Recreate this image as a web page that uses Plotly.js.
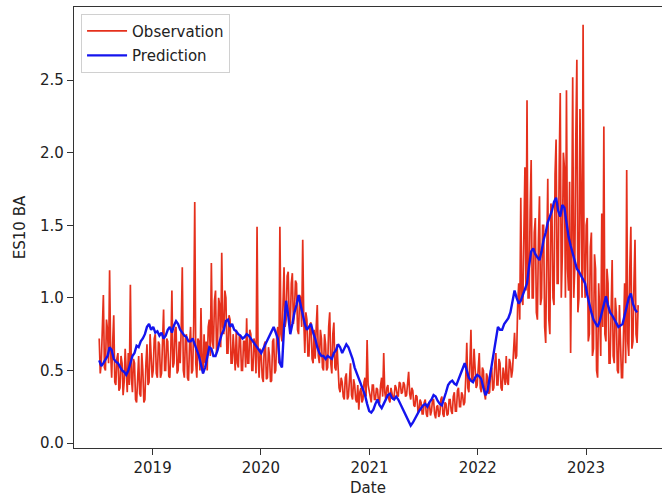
<!DOCTYPE html>
<html>
<head>
<meta charset="utf-8">
<script src="https://cdn.plot.ly/plotly-3.0.1.min.js"></script>
<style>html,body{margin:0;padding:0;background:#fff;}#chart{width:662px;height:503px;}</style>
</head>
<body>
<div id="chart"></div>
<script>
// Observation: twice-weekly samples (every 3.5 days) starting 2018-07-05, 26 values per quarter
const obsStart = '2018-07-05';
const obsStepDays = 3.5;
const observation = [
  0.72, 0.48, 0.55, 0.80, 1.02, 0.52, 0.50, 0.85, 0.78, 0.55, 1.19, 0.62, 0.45, 0.70, 0.88, 0.42, 0.40, 0.58, 0.62, 0.36, 0.38, 0.60, 0.55, 0.33, 0.42, 0.65,
  0.45, 0.35, 0.62, 0.40, 1.09, 0.45, 0.35, 0.58, 0.55, 0.30, 0.28, 0.52, 0.60, 0.34, 0.32, 0.62, 0.50, 0.28, 0.30, 0.55, 0.68, 0.40, 0.42, 0.75, 0.60, 0.45,
  0.50, 0.72, 0.75, 0.48, 0.45, 0.70, 0.68, 0.45, 0.48, 0.78, 0.92, 0.50, 0.50, 0.72, 0.70, 0.46, 0.45, 0.65, 1.05, 0.52, 0.55, 0.78, 0.80, 0.48, 0.50, 0.70,
  0.55, 0.80, 1.21, 0.50, 0.45, 0.72, 0.75, 0.45, 0.43, 0.68, 0.80, 0.48, 0.50, 0.82, 1.66, 0.55, 0.45, 0.72, 0.70, 0.50, 0.93, 0.55, 0.48, 0.75, 0.55, 0.70,
  0.50, 0.80, 0.85, 0.60, 1.24, 0.70, 0.65, 0.98, 1.05, 0.62, 0.70, 1.00, 0.95, 0.66, 1.31, 0.80, 0.75, 1.05, 1.00, 0.62, 0.62, 0.88, 0.85, 0.55, 0.55, 0.75,
  0.60, 0.50, 0.78, 0.55, 0.52, 0.75, 0.72, 0.50, 0.50, 0.70, 0.70, 0.52, 0.86, 0.55, 0.55, 0.78, 0.75, 0.50, 0.50, 0.72, 0.68, 0.48, 1.49, 0.60, 0.45, 0.65,
  0.62, 0.45, 0.42, 0.68, 0.70, 0.44, 0.45, 0.66, 0.60, 0.42, 0.43, 0.70, 0.72, 0.48, 0.50, 0.75, 0.80, 0.55, 1.49, 0.75, 0.70, 1.05, 1.21, 0.80, 0.85, 1.15,
  1.18, 0.85, 0.80, 1.10, 1.17, 0.82, 0.90, 1.12, 1.10, 0.78, 0.75, 1.02, 1.00, 0.80, 1.40, 0.85, 0.62, 0.90, 0.85, 0.60, 0.60, 0.82, 0.83, 0.58, 0.55, 0.78,
  0.58, 0.80, 0.95, 0.60, 0.55, 0.78, 0.72, 0.52, 0.50, 0.75, 0.68, 0.50, 0.52, 0.80, 0.90, 0.55, 0.48, 0.75, 0.83, 0.52, 0.50, 0.68, 0.45, 0.38, 0.35, 0.45,
  0.42, 0.32, 0.30, 0.45, 0.48, 0.30, 0.32, 0.46, 0.55, 0.33, 0.30, 0.44, 0.40, 0.30, 0.28, 0.40, 0.23, 0.35, 0.38, 0.28, 0.30, 0.42, 0.45, 0.32, 0.71, 0.40,
  0.35, 0.30, 0.28, 0.40, 0.40, 0.30, 0.30, 0.38, 0.37, 0.28, 0.28, 0.40, 0.45, 0.32, 0.62, 0.35, 0.30, 0.38, 0.40, 0.30, 0.28, 0.38, 0.35, 0.30, 0.32, 0.40,
  0.38, 0.33, 0.32, 0.42, 0.41, 0.34, 0.35, 0.42, 0.40, 0.32, 0.33, 0.44, 0.49, 0.34, 0.30, 0.38, 0.36, 0.26, 0.25, 0.33, 0.32, 0.22, 0.22, 0.30, 0.28, 0.20,
  0.20, 0.28, 0.30, 0.20, 0.18, 0.27, 0.28, 0.19, 0.22, 0.30, 0.30, 0.20, 0.17, 0.25, 0.26, 0.18, 0.20, 0.30, 0.32, 0.20, 0.18, 0.28, 0.27, 0.19, 0.20, 0.30,
  0.30, 0.22, 0.20, 0.32, 0.35, 0.22, 0.22, 0.36, 0.38, 0.25, 0.25, 0.35, 0.33, 0.26, 0.28, 0.45, 0.69, 0.38, 0.35, 0.55, 0.78, 0.42, 0.45, 0.65, 0.55, 0.38,
  0.40, 0.55, 0.62, 0.38, 0.35, 0.52, 0.50, 0.34, 0.30, 0.48, 0.45, 0.34, 0.35, 0.50, 0.52, 0.36, 0.38, 0.55, 0.62, 0.40, 0.40, 0.58, 0.55, 0.38, 0.36, 0.52,
  0.45, 0.40, 0.60, 0.42, 0.40, 0.58, 0.55, 0.45, 0.50, 0.68, 0.76, 0.58, 0.60, 0.95, 1.10, 0.85, 1.69, 1.00, 0.95, 1.45, 1.90, 1.05, 2.36, 1.00, 1.00, 1.60,
  1.95, 1.00, 1.00, 1.45, 1.55, 0.90, 0.85, 1.40, 1.70, 0.95, 1.00, 1.50, 1.50, 0.80, 0.69, 1.30, 1.82, 0.85, 0.75, 1.65, 1.60, 1.00, 0.95, 1.85, 2.09, 1.10,
  1.10, 1.90, 2.41, 1.00, 1.30, 2.00, 1.90, 1.00, 2.43, 1.20, 1.05, 1.80, 0.62, 1.40, 2.52, 1.00, 1.20, 2.10, 2.64, 0.90, 1.00, 2.30, 1.80, 1.00, 2.88, 1.20,
  1.00, 1.50, 1.55, 0.70, 0.75, 1.35, 1.45, 0.60, 0.65, 1.30, 1.20, 0.50, 0.45, 1.10, 0.90, 0.60, 1.58, 0.80, 2.18, 0.75, 0.70, 1.20, 1.10, 0.55, 0.55, 1.00,
  1.26, 0.60, 0.55, 1.00, 0.90, 0.50, 0.48, 0.95, 0.75, 0.45, 0.45, 0.85, 1.10, 0.55, 1.88, 0.70, 0.60, 1.20, 1.49, 0.65, 0.70, 1.10, 1.40, 0.75, 0.69, 0.95
];

// Prediction: weekly samples starting 2018-07-05
const predStart = '2018-07-05';
const predStepDays = 7;
const prediction = [
  0.57, 0.53, 0.55, 0.58, 0.60, 0.66, 0.64, 0.58, 0.56, 0.55, 0.52, 0.50, 0.49, 0.47, 0.50, 0.55, 0.60, 0.62, 0.67, 0.66,
  0.70, 0.72, 0.75, 0.80, 0.82, 0.78, 0.80, 0.76, 0.77, 0.74, 0.76, 0.72, 0.74, 0.78, 0.80, 0.76, 0.81, 0.84, 0.82, 0.78,
  0.76, 0.74, 0.73, 0.70, 0.70, 0.72, 0.68, 0.64, 0.60, 0.54, 0.48, 0.52, 0.60, 0.66, 0.65, 0.60, 0.60, 0.64, 0.70, 0.75,
  0.78, 0.84, 0.85, 0.80, 0.82, 0.78, 0.77, 0.75, 0.74, 0.72, 0.73, 0.75, 0.74, 0.72, 0.70, 0.68, 0.66, 0.64, 0.62, 0.65,
  0.68, 0.72, 0.75, 0.78, 0.80, 0.76, 0.72, 0.55, 0.52, 0.80, 0.98, 0.88, 0.75, 0.82, 0.90, 0.95, 1.02, 0.95, 0.88, 0.82,
  0.78, 0.80, 0.82, 0.76, 0.72, 0.66, 0.62, 0.60, 0.60, 0.58, 0.60, 0.59, 0.58, 0.62, 0.64, 0.68, 0.66, 0.62, 0.65, 0.68,
  0.66, 0.62, 0.58, 0.52, 0.48, 0.44, 0.40, 0.36, 0.33, 0.27, 0.22, 0.21, 0.23, 0.27, 0.30, 0.26, 0.24, 0.27, 0.30, 0.33,
  0.34, 0.31, 0.30, 0.32, 0.30, 0.27, 0.24, 0.21, 0.18, 0.14, 0.12, 0.14, 0.17, 0.20, 0.22, 0.24, 0.26, 0.27, 0.25, 0.28,
  0.30, 0.33, 0.32, 0.29, 0.27, 0.26, 0.30, 0.35, 0.40, 0.42, 0.43, 0.41, 0.40, 0.44, 0.47, 0.52, 0.55, 0.50, 0.45, 0.43,
  0.42, 0.45, 0.47, 0.46, 0.44, 0.38, 0.33, 0.36, 0.45, 0.52, 0.62, 0.72, 0.80, 0.78, 0.78, 0.82, 0.84, 0.86, 0.90, 0.98,
  1.05, 1.00, 0.96, 0.98, 1.02, 1.06, 1.10, 1.22, 1.32, 1.34, 1.30, 1.28, 1.26, 1.32, 1.40, 1.45, 1.52, 1.56, 1.60, 1.66,
  1.69, 1.60, 1.56, 1.64, 1.62, 1.52, 1.42, 1.36, 1.30, 1.25, 1.20, 1.18, 1.15, 1.12, 1.10, 1.02, 0.95, 0.90, 0.85, 0.82,
  0.80, 0.84, 0.90, 0.96, 1.01, 0.95, 0.90, 0.88, 0.85, 0.82, 0.80, 0.81, 0.82, 0.88, 0.95, 1.00, 1.03, 0.96, 0.92, 0.90
];

const yTicks = [0, 0.5, 1.0, 1.5, 2.0, 2.5];
const yTickLabels = ['0.0', '0.5', '1.0', '1.5', '2.0', '2.5'];
const xTicks = ['2019-01-01', '2020-01-01', '2021-01-01', '2022-01-01', '2023-01-01'];
const xTickLabels = ['2019', '2020', '2021', '2022', '2023'];

function seriesDates(start, stepDays, n) {
  const t0 = Date.parse(start + 'T00:00:00Z');
  const out = [];
  for (let i = 0; i < n; i++) {
    const iso = new Date(t0 + i * stepDays * 86400000).toISOString();
    out.push(iso.slice(0, 10) + ' ' + iso.slice(11, 19));
  }
  return out;
}

const font = 'DejaVu Sans, sans-serif';
const traces = [
  {
    x: seriesDates(obsStart, obsStepDays, observation.length),
    y: observation,
    type: 'scatter', mode: 'lines', name: 'Observation', legendgroup: 'obs',
    line: {color: '#e5301c', width: 1.7}
  },
  {
    x: seriesDates(predStart, predStepDays, prediction.length),
    y: prediction,
    type: 'scatter', mode: 'lines', name: 'Prediction', legendgroup: 'pred',
    line: {color: '#1414ee', width: 2.4}
  }
];

const layout = {
  width: 662, height: 503,
  margin: {l: 74, r: 0, t: 7, b: 55},
  paper_bgcolor: '#fff', plot_bgcolor: '#fff',
  font: {family: font, size: 15, color: '#222'},
  showlegend: true,
  legend: {
    x: 0.012, y: 0.985, xanchor: 'left', yanchor: 'top',
    bgcolor: 'rgba(255,255,255,0.8)', bordercolor: '#d0d0d0', borderwidth: 1,
    traceorder: 'grouped', tracegroupgap: 2, itemwidth: 40,
    font: {family: font, size: 15, color: '#222'}
  },
  xaxis: {
    type: 'date',
    range: ['2018-04-11', '2023-09-14'],
    tickvals: xTicks, ticktext: xTickLabels,
    ticks: 'outside', ticklen: 6, tickcolor: '#333', tickwidth: 1,
    showgrid: false, zeroline: false,
    showline: true, mirror: true, linecolor: '#333', linewidth: 1.2,
    title: {text: 'Date', font: {family: font, size: 15, color: '#222'}, standoff: 6},
    tickfont: {family: font, size: 15, color: '#222'}
  },
  yaxis: {
    range: [-0.034, 3.003],
    tickvals: yTicks, ticktext: yTickLabels,
    ticks: 'outside', ticklen: 6, tickcolor: '#333', tickwidth: 1,
    showgrid: false, zeroline: false,
    showline: true, mirror: false, linecolor: '#333', linewidth: 1.2,
    title: {text: 'ES10 BA', font: {family: font, size: 15, color: '#222'}, standoff: 10},
    tickfont: {family: font, size: 15, color: '#222'}
  }
};

Plotly.newPlot('chart', traces, layout, {displayModeBar: false, staticPlot: true});
</script>
</body>
</html>
